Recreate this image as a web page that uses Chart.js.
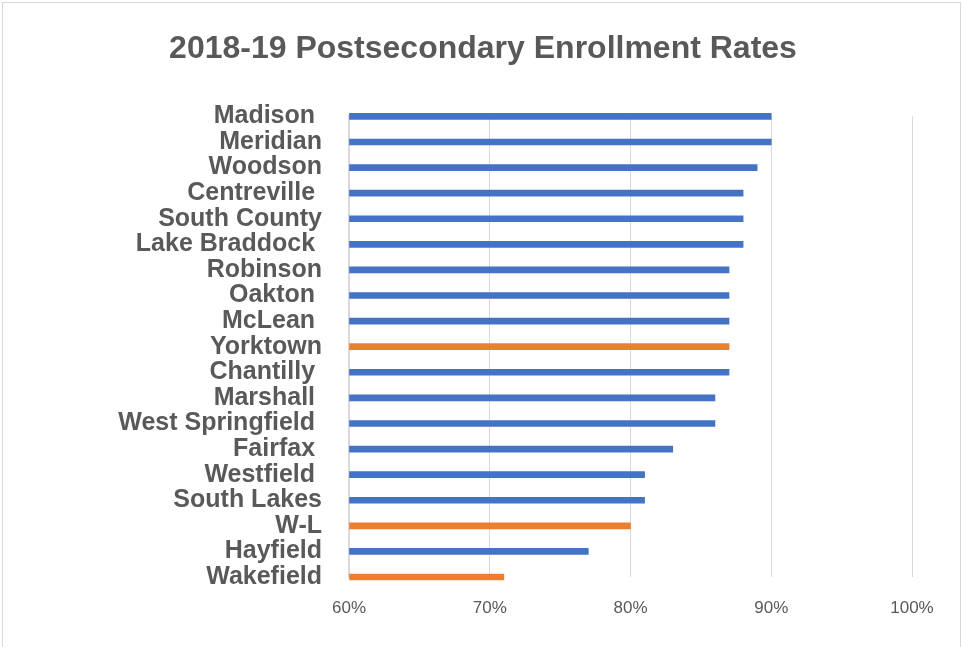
<!DOCTYPE html>
<html>
<head>
<meta charset="utf-8">
<script src="https://cdn.jsdelivr.net/npm/chart.js@4"></script>
<style>
  html, body { margin: 0; padding: 0; background: #fff; }
  .wrap { position: relative; width: 962px; height: 647px; overflow: hidden; }
  .frame {
    position: absolute; left: 2px; top: 2px; width: 959px; height: 700px;
    border: 1px solid #d9d9d9; box-sizing: border-box;
  }
  canvas { position: absolute; left: 0; top: 0; }
</style>
</head>
<body>
<div class="wrap">
  <div class="frame"></div>
  <canvas id="chart" width="962" height="647"></canvas>
</div>
<script>
  const schools = ["Madison ", "Meridian", "Woodson", "Centreville ", "South County", "Lake Braddock ",
    "Robinson", "Oakton ", "McLean ", "Yorktown", "Chantilly ", "Marshall ", "West Springfield ",
    "Fairfax ", "Westfield ", "South Lakes", "W-L", "Hayfield", "Wakefield"];
  const rates = [90, 90, 89, 88, 88, 88, 87, 87, 87, 87, 87, 86, 86, 83, 81, 81, 80, 77, 71];
  const highlighted = ["Yorktown", "W-L", "Wakefield"];
  const xTicks = [60, 70, 80, 90, 100];

  const gray = "#595959";
  const barColors = schools.map(s => highlighted.includes(s.trim()) ? "#ED7D31" : "#4472C4");

  const ctx = document.getElementById("chart");

  new Chart(ctx, {
    type: "bar",
    data: {
      labels: schools,
      datasets: [
        {
          label: "Enrollment rate",
          data: rates,
          base: xTicks[0],
          backgroundColor: barColors,
          barThickness: 6,
          clip: false,
        },
      ],
    },
    options: {
      indexAxis: "y",
      responsive: false,
      animation: false,
      layout: {
        padding: { left: 54, right: 50, top: 12, bottom: 29 },
      },
      scales: {
        x: {
          min: xTicks[0],
          max: xTicks[xTicks.length - 1],
          afterBuildTicks: (scale) => {
            scale.ticks = xTicks.map(v => ({ value: v }));
          },
          afterFit: (scale) => { scale.height = 41; },
          grid: { color: "#d9d9d9", drawTicks: false },
          border: { display: false },
          ticks: {
            color: gray,
            padding: 21,
            font: { family: "Liberation Sans", size: 17 },
            callback: (v) => v + "%",
          },
        },
        y: {
          offset: false,
          grid: { display: false, drawTicks: false },
          border: { display: true, color: "#d9d9d9", width: 2 },
          afterFit: (scale) => { scale.width = 295; },
          ticks: {
            color: gray,
            padding: 27,
            autoSkip: false,
            font: { family: "Liberation Sans", size: 25, weight: "bold" },
          },
        },
      },
      plugins: {
        legend: { display: false },
        tooltip: { enabled: false },
        title: {
          display: true,
          text: "2018-19 Postsecondary Enrollment Rates",
          color: gray,
          font: { family: "Liberation Sans", size: 32, weight: "bold" },
          padding: { top: 18, bottom: 48 },
        },
      },
    },
  });
</script>
</body>
</html>
